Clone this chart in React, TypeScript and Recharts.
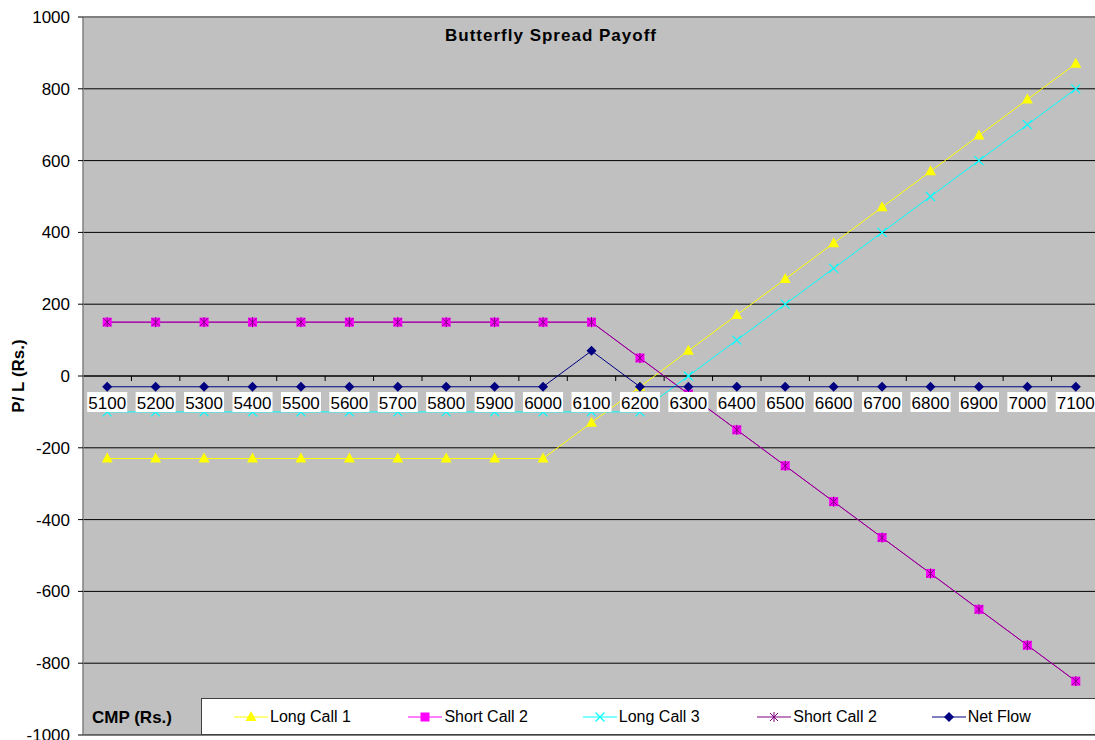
import { LineChart, Line, XAxis, YAxis, CartesianGrid, Legend, ReferenceLine, Label, Customized } from 'recharts'

const cmp = [5100, 5200, 5300, 5400, 5500, 5600, 5700, 5800, 5900, 6000, 6100, 6200, 6300, 6400, 6500, 6600, 6700, 6800, 6900, 7000, 7100]
const longCall1 = [-230, -230, -230, -230, -230, -230, -230, -230, -230, -230, -130, -30, 70, 170, 270, 370, 470, 570, 670, 770, 870]
const shortCall2 = [150, 150, 150, 150, 150, 150, 150, 150, 150, 150, 150, 50, -50, -150, -250, -350, -450, -550, -650, -750, -850]
const longCall3 = [-100, -100, -100, -100, -100, -100, -100, -100, -100, -100, -100, -100, 0, 100, 200, 300, 400, 500, 600, 700, 800]
const shortCall2b = [150, 150, 150, 150, 150, 150, 150, 150, 150, 150, 150, 50, -50, -150, -250, -350, -450, -550, -650, -750, -850]
const netFlow = [-30, -30, -30, -30, -30, -30, -30, -30, -30, -30, 70, -30, -30, -30, -30, -30, -30, -30, -30, -30, -30]
const yTicks = [-1000, -800, -600, -400, -200, 0, 200, 400, 600, 800, 1000]

const data = cmp.map((c, i) => ({
  cmp: c,
  longCall1: longCall1[i],
  shortCall2: shortCall2[i],
  longCall3: longCall3[i],
  shortCall2b: shortCall2b[i],
  netFlow: netFlow[i],
}))

const FONT = '"Liberation Sans", Arial, sans-serif'
const W = 1100
const H = 740
const TOP = 17
const YW = 83
const XH = 5
const PLOT_H = H - TOP - XH
const ZERO_Y = TOP + PLOT_H / 2
const BAND = (W - YW) / cmp.length

type Marker = 'triangle' | 'square' | 'x' | 'star' | 'diamond'

function drawMarker(kind: Marker, cx: number, cy: number, color: string, key?: string) {
  switch (kind) {
    case 'triangle':
      return <polygon key={key} points={`${cx},${cy - 6} ${cx - 5.5},${cy + 4} ${cx + 5.5},${cy + 4}`} fill={color} />
    case 'square':
      return <rect key={key} x={cx - 4.5} y={cy - 4.5} width={9} height={9} fill={color} />
    case 'x':
      return (
        <g key={key} stroke={color} strokeWidth={1.2}>
          <line x1={cx - 4.5} y1={cy - 4.5} x2={cx + 4.5} y2={cy + 4.5} />
          <line x1={cx - 4.5} y1={cy + 4.5} x2={cx + 4.5} y2={cy - 4.5} />
        </g>
      )
    case 'star':
      return (
        <g key={key} stroke={color} strokeWidth={1}>
          <line x1={cx - 4} y1={cy - 4} x2={cx + 4} y2={cy + 4} />
          <line x1={cx - 4} y1={cy + 4} x2={cx + 4} y2={cy - 4} />
          <line x1={cx} y1={cy - 5} x2={cx} y2={cy + 5} />
        </g>
      )
    default:
      return <polygon key={key} points={`${cx},${cy - 5} ${cx + 5},${cy} ${cx},${cy + 5} ${cx - 5},${cy}`} fill={color} />
  }
}

const makeDot = (kind: Marker, color: string) => (props: any) =>
  drawMarker(kind, props.cx, props.cy, color, `${kind}-${props.index}`)

const series = [
  { key: 'longCall1', name: 'Long Call 1', color: '#FFFF00', marker: 'triangle' as Marker },
  { key: 'shortCall2', name: 'Short Call 2', color: '#FF00FF', marker: 'square' as Marker },
  { key: 'longCall3', name: 'Long Call 3', color: '#00FFFF', marker: 'x' as Marker },
  { key: 'shortCall2b', name: 'Short Call 2', color: '#800080', marker: 'star' as Marker },
  { key: 'netFlow', name: 'Net Flow', color: '#000080', marker: 'diamond' as Marker },
]

function XTick({ x, payload }: any) {
  return (
    <g>
      <line x1={x + BAND / 2} x2={x + BAND / 2} y1={ZERO_Y} y2={ZERO_Y + 5} stroke="#000" />
      <rect x={x - 20} y={ZERO_Y + 16} width={40} height={20} fill="#fff" />
      <text x={x} y={ZERO_Y + 33} textAnchor="middle" fontSize={17} fontFamily={FONT} fill="#000">
        {payload.value}
      </text>
    </g>
  )
}

function LegendBox() {
  return (
    <div
      style={{
        width: '100%',
        height: '100%',
        boxSizing: 'border-box',
        background: '#fff',
        border: '1px solid #404040',
        display: 'flex',
        alignItems: 'center',
        paddingLeft: 31,
        fontFamily: FONT,
        fontSize: 16,
        color: '#000',
      }}
    >
      {series.map(s => (
        <div key={s.key} style={{ width: 184.5, display: 'flex', alignItems: 'center' }}>
          <svg width={37} height={14}>
            <line x1={1} x2={35} y1={7} y2={7} stroke={s.color} />
            {drawMarker(s.marker, 18, 7, s.color)}
          </svg>
          <span>{s.name}</span>
        </div>
      ))}
    </div>
  )
}

export default function App() {
  return (
    <div style={{ position: 'absolute', left: 0, top: 0, width: 1095, height: 740, overflow: 'hidden', background: '#fff' }}>
      <LineChart width={W} height={H} data={data} margin={{ top: TOP, right: 0, bottom: 0, left: 0 }}>
        <CartesianGrid vertical={false} stroke="#000" fill="#C0C0C0" />
        <YAxis
          width={YW}
          domain={[-1000, 1000]}
          ticks={yTicks}
          interval={0}
          tick={{ fontSize: 17, fontFamily: FONT, fill: '#000' }}
          tickLine={{ stroke: '#000' }}
          tickSize={5}
          tickMargin={8}
          axisLine={{ stroke: '#808080', strokeWidth: 1.5 }}
        >
          <Label
            content={({ viewBox }: any) => (
              <text
                x={18}
                y={viewBox.y + viewBox.height / 2}
                transform={`rotate(-90 18 ${viewBox.y + viewBox.height / 2})`}
                textAnchor="middle"
                dominantBaseline="central"
                fontSize={17}
                fontWeight="bold"
                fontFamily={FONT}
                fill="#000"
              >
                P/ L (Rs.)
              </text>
            )}
          />
        </YAxis>
        <ReferenceLine y={1000} stroke="#808080" strokeWidth={2} />
        <ReferenceLine y={0} stroke="#000" />
        {series.map(s => (
          <Line
            key={s.key}
            dataKey={s.key}
            name={s.name}
            stroke={s.color}
            strokeWidth={1}
            type="linear"
            dot={makeDot(s.marker, s.color)}
            activeDot={false}
            isAnimationActive={false}
          />
        ))}
        <XAxis
          dataKey="cmp"
          height={XH}
          interval={0}
          padding={{ left: BAND / 2, right: BAND / 2 }}
          tick={<XTick />}
          tickLine={false}
          axisLine={false}
        />
        <Customized
          component={() => (
            <g fontFamily={FONT} fontWeight="bold" fontSize={17} fill="#000">
              <text x={551} y={41} textAnchor="middle" letterSpacing={1}>Butterfly Spread Payoff</text>
              <text x={92} y={723}>CMP (Rs.)</text>
            </g>
          )}
        />
        <Legend
          layout="horizontal"
          verticalAlign="middle"
          align="center"
          content={() => <LegendBox />}
          wrapperStyle={{ left: 201, top: 698, bottom: 'auto', width: 905, height: 37 }}
        />
      </LineChart>
    </div>
  )
}
